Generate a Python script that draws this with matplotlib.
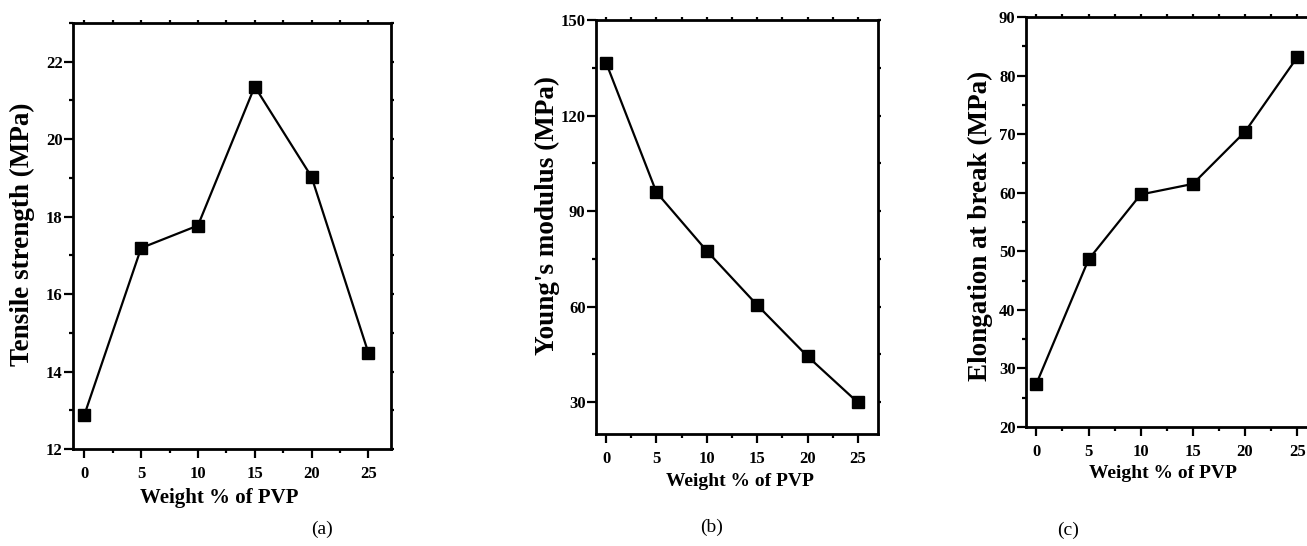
import matplotlib
matplotlib.use("Agg")
import matplotlib.pyplot as plt
from matplotlib.ticker import MultipleLocator

# данные
pvp_wt = [0, 5, 10, 15, 20, 25]
tensile = [12.88, 17.19, 17.77, 21.36, 19.03, 14.49]
youngs = [136.6, 95.9, 77.5, 60.5, 44.4, 29.9]
elongation = [27.4, 48.6, 59.7, 61.5, 70.4, 83.1]

y_labels = ["Tensile strength (MPa)", "Young's modulus (MPa)", "Elongation at break (MPa)"]
panel_tags = ["(a)", "(b)", "(c)"]
x_label = "Weight % of PVP"

plt.rcParams['font.family'] = ['Liberation Serif', 'DejaVu Serif']

W, H = 1307, 546
fig = plt.figure(figsize=(W / 100, H / 100), dpi=100)


def px(x, y):
    # пиксели (от левого верхнего угла) -> доли фигуры
    return x / W, 1 - y / H


# рамки осей в пикселях: left, right, top, bottom
frames = [(73, 391, 23, 449), (596, 878, 20, 434), (1026, 1318, 17, 427)]
ylims = [(12, 23), (20, 150), (20, 90)]
ymajor = [2, 30, 10]
yminor = [1, 15, 5]
series = [tensile, youngs, elongation]
ylab_xy = [(22, 234), (547, 216), (980, 226)]
xlab_xy = [(219, 498), (740, 481), (1163, 473)]
xlab_size = [15, 14, 14]
tag_xy = [(322, 529), (712, 527), (1068, 530)]

for i in range(3):
    l, r, t, b = frames[i]
    ax = fig.add_axes([l / W, 1 - b / H, (r - l) / W, (b - t) / H])
    ax.plot(pvp_wt, series[i], color='black', lw=1.6, marker='s',
            markersize=9, markerfacecolor='black', clip_on=False)

    ax.set_xlim(-1, 27)
    ax.set_ylim(*ylims[i])
    ax.xaxis.set_major_locator(MultipleLocator(5))
    ax.xaxis.set_minor_locator(MultipleLocator(2.5))
    ax.yaxis.set_major_locator(MultipleLocator(ymajor[i]))
    ax.yaxis.set_minor_locator(MultipleLocator(yminor[i]))
    for sp in ax.spines.values():
        sp.set_linewidth(2)
    ax.tick_params(which='both', direction='out', width=1.6, top=True, right=True)
    ax.tick_params(which='major', length=6.5)
    ax.tick_params(which='minor', length=3)
    ax.tick_params(axis='x', pad=6)
    ax.tick_params(axis='y', pad=1)
    # засечки на верхней и правой осях совсем короткие
    for tick in (ax.xaxis.get_major_ticks() + ax.xaxis.get_minor_ticks()
                 + ax.yaxis.get_major_ticks() + ax.yaxis.get_minor_ticks()):
        tick.tick2line.set_markersize(2)
    for lbl in ax.get_xticklabels() + ax.get_yticklabels():
        lbl.set_fontweight('bold')
        lbl.set_fontsize(12)

    ax.set_ylabel(y_labels[i], fontsize=19.5, fontweight='bold')
    ax.yaxis.set_label_coords(*px(*ylab_xy[i]), transform=fig.transFigure)
    ax.yaxis.label.set_verticalalignment('center')
    ax.set_xlabel(x_label, fontsize=xlab_size[i], fontweight='bold')
    ax.xaxis.set_label_coords(*px(*xlab_xy[i]), transform=fig.transFigure)
    ax.xaxis.label.set_verticalalignment('center')

    fig.text(*px(*tag_xy[i]), panel_tags[i], fontsize=14, ha='center', va='center')

fig.savefig("out.png", dpi=100)
